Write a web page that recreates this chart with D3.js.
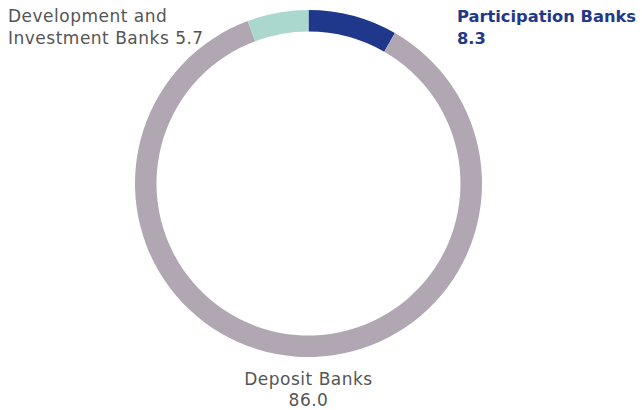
<!DOCTYPE html>
<html>
<head>
<meta charset="utf-8">
<script src="https://cdn.jsdelivr.net/npm/d3@7"></script>
<style>
  html, body { margin: 0; padding: 0; background: #ffffff; }
  svg text { font-family: "DejaVu Sans", sans-serif; }
</style>
</head>
<body>
<svg id="chart" width="642" height="410"></svg>
<script>
// Bank assets share by bank group (%)
const categories = ["Participation Banks", "Deposit Banks", "Development and Investment Banks"];
const values = [8.3, 86.0, 5.7];
const colors = ["#1f388c", "#b0a7b2", "#aad8cf"];

const svg = d3.select("#chart");
const cx = 308.5, cy = 183.5, outerR = 173.5, innerR = 152;

const pie = d3.pie().sort(null).value(d => d.value);
const arcs = pie(categories.map((c, i) => ({ name: c, value: values[i], color: colors[i] })));
const arc = d3.arc().innerRadius(innerR).outerRadius(outerR);

svg.append("g")
  .attr("transform", `translate(${cx},${cy})`)
  .selectAll("path")
  .data(arcs)
  .join("path")
  .attr("d", arc)
  .attr("fill", d => d.data.color);

const fmt = d3.format(".1f");

// Participation Banks label (top right)
const tP = svg.append("text")
  .attr("x", 457).attr("y", 22)
  .attr("fill", colors[0])
  .attr("font-weight", 700)
  .attr("font-size", 16.3);
tP.append("tspan").attr("x", 457).text(categories[0]);
tP.append("tspan").attr("x", 457).attr("dy", 22).text(fmt(values[0]));

// Development and Investment Banks label (top left)
const tD = svg.append("text")
  .attr("x", 8).attr("y", 22)
  .attr("fill", "#555555")
  .attr("font-size", 17)
  .attr("letter-spacing", 0.5);
tD.append("tspan").attr("x", 8).text("Development and");
tD.append("tspan").attr("x", 8).attr("dy", 22).text("Investment Banks " + fmt(values[2]));

// Deposit Banks label (bottom)
const tB = svg.append("text")
  .attr("x", cx).attr("y", 385)
  .attr("text-anchor", "middle")
  .attr("fill", "#555555")
  .attr("font-size", 17)
  .attr("letter-spacing", 0.5);
tB.append("tspan").attr("x", cx).text(categories[1]);
tB.append("tspan").attr("x", cx).attr("dy", 21).text(fmt(values[1]));
</script>
</body>
</html>
